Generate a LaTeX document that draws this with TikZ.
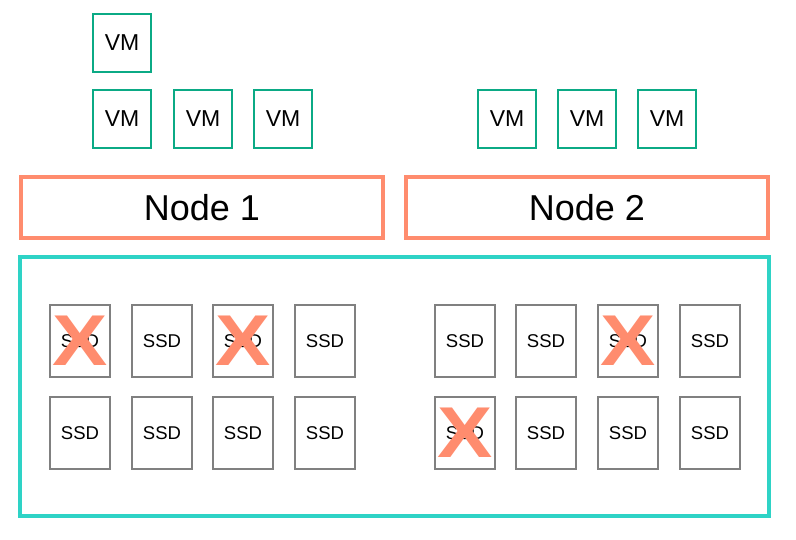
\documentclass[tikz,border=0pt]{standalone}
\usepackage{fontspec}
\setmainfont{Liberation Sans}
\definecolor{vmg}{HTML}{0BAA85}
\definecolor{sal}{HTML}{FF8C6E}
\definecolor{teal}{HTML}{2ED3C6}
\definecolor{gr}{HTML}{808080}
\begin{document}
\begin{tikzpicture}[x=1pt,y=-1pt,
 vm/.style={draw=vmg,line width=2.5pt,minimum width=58pt,minimum height=58pt,inner sep=0pt,font=\fontsize{23}{27}\selectfont},
 nd/.style={draw=sal,line width=4pt,minimum width=362pt,minimum height=61pt,font=\fontsize{36}{42}\selectfont},
 ssd/.style={draw=gr,line width=2pt,minimum width=60pt,minimum height=72pt,inner sep=0pt,font=\fontsize{18.5}{22}\selectfont},
 xx/.style={text=sal,font=\fontsize{72}{74}\selectfont\bfseries,inner sep=0pt,xscale=1.15}]
\useasboundingbox (0,0) rectangle (796,539);
\node[vm] (v0) at (122,43) {VM};
\foreach \x/\n in {122/a,203/b,283/c,507/d,587/e,667/f}
  \node[vm] (v\n) at (\x,119) {VM};
\node[nd] (n1) at (202,207.5) {Node 1};
\node[nd] (n2) at (587,207.5) {Node 2};
\node[draw=teal,line width=4pt,minimum width=749pt,minimum height=259pt] (box) at (394.5,386.5) {};
\foreach \x/\i in {80/1,162/2,243/3,325/4,465/5,546/6,628/7,710/8}{
  \node[ssd] (s\i) at (\x,341) {SSD};
  \node[ssd] (t\i) at (\x,433) {SSD};}
\node[xx] (x1) at (s1) {X};
\node[xx] (x2) at (s3) {X};
\node[xx] (x3) at (s7) {X};
\node[xx] (x4) at (t5) {X};
\end{tikzpicture}
\end{document}
